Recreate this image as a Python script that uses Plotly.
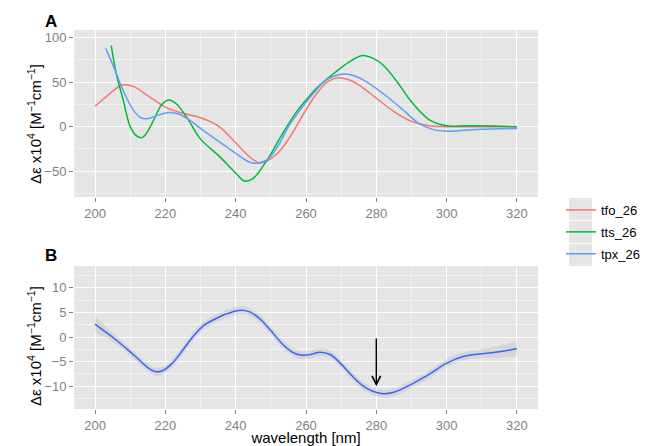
import plotly.graph_objects as go

# ---------------- data ----------------
tfo_x = [200, 203, 205, 208, 211, 215, 220, 225, 230, 235, 240, 244, 247, 250, 253, 256, 260, 263, 266, 269, 272, 275, 280, 285, 290, 295, 300, 305, 310, 315, 320]
tfo_y = [23, 33, 40, 47, 45, 35, 22, 15, 10, 1, -18, -34, -41, -36, -25, -8, 19, 37, 50, 55, 53, 47, 32, 17, 6, 1, 0, 0, 0, 0, 0]

tts_x = [204.6, 206, 208, 210, 212, 213.5, 215, 217, 219, 221, 223, 226, 230, 235, 240, 242.5, 245, 249, 253, 257, 260, 264, 268, 272, 276, 279, 282, 286, 290, 295, 300, 305, 310, 320]
tts_y = [91, 60, 30, 0, -11, -12, -5, 10, 25, 30, 26, 11, -14, -32, -52, -61, -58, -37, -10, 15, 30, 47, 60, 72, 80, 77, 69, 50, 28, 8, 1, 1, 1, 0]

tpx_x = [203, 205, 207, 209, 211, 213, 215, 218, 221, 224, 227, 230, 235, 240, 244, 246, 249, 252, 255, 258, 262, 266, 270, 273, 277, 282, 287, 292, 296, 300, 305, 310, 320]
tpx_y = [88, 70, 50, 32, 18, 10, 9, 13, 16, 14, 7, -2, -16, -30, -40, -41, -37, -22, 0, 17, 37, 53, 59, 58, 51, 37, 21, 4, -3, -5, -4, -3, -2]

smooth_x = [200, 203, 206, 209, 212, 215, 217, 219, 222, 225, 228, 231, 234, 237, 241, 244, 247, 250, 253, 256, 258, 261, 264, 267, 270, 273, 276, 279, 282, 285, 288, 291, 295, 300, 305, 310, 315, 320]
smooth_y = [2.6, 1.0, -0.6, -2.4, -4.3, -6.2, -7.0, -6.9, -5.3, -2.6, 0.2, 2.4, 3.6, 4.6, 5.4, 5.1, 3.6, 1.3, -1.2, -3.0, -3.6, -3.6, -3.1, -3.6, -5.5, -7.8, -9.8, -11.0, -11.5, -11.2, -10.3, -9.2, -7.6, -5.3, -3.9, -3.4, -3.0, -2.4]
smooth_se = [1.8, 1.2, 0.9, 0.8, 0.8, 0.8, 0.8, 0.8, 0.8, 0.8, 0.8, 0.8, 0.8, 0.8, 0.8, 0.8, 0.8, 0.8, 0.8, 0.8, 0.8, 0.8, 0.8, 0.8, 0.8, 0.8, 0.8, 0.8, 0.8, 0.8, 0.8, 0.8, 0.8, 0.8, 0.8, 0.9, 1.2, 1.6]

series_names = ["tfo_26", "tts_26", "tpx_26"]
series_colors = ["#F8766D", "#00BA38", "#619CFF"]

x_ticks = [200, 220, 240, 260, 280, 300, 320]
ya_ticks = [-50, 0, 50, 100]
yb_ticks = [-10, -5, 0, 5, 10]
arrow_x = 280
arrow_y0 = 0
arrow_y1 = -10

# ---------------- layout geometry ----------------
W, H = 645, 446
ML, MR, MT, MB = 74, 107, 30, 37
PW, PH = W - ML - MR, H - MT - MB

def px_x(p):
    return (p - ML) / PW

def px_y(p):
    return (H - MB - p) / PH

FONT = "Liberation Sans, Arial, sans-serif"
GRID_BG = "#E5E5E5"
TICK_GREY = "#7F7F7F"

fig = go.Figure()

for name, color, xs, ys in zip(series_names, series_colors,
                               [tfo_x, tts_x, tpx_x], [tfo_y, tts_y, tpx_y]):
    fig.add_trace(go.Scatter(x=xs, y=ys, mode="lines", name=name,
                             line=dict(color=color, width=1.5, shape="spline", smoothing=1.0),
                             legendgroup=name, xaxis="x", yaxis="y"))

upper = [y + s for y, s in zip(smooth_y, smooth_se)]
lower = [y - s for y, s in zip(smooth_y, smooth_se)]
fig.add_trace(go.Scatter(x=smooth_x, y=upper, mode="lines", line=dict(width=0, shape="spline"),
                         showlegend=False, hoverinfo="skip", xaxis="x2", yaxis="y2"))
fig.add_trace(go.Scatter(x=smooth_x, y=lower, mode="lines", line=dict(width=0, shape="spline"),
                         fill="tonexty", fillcolor="rgba(160,160,160,0.22)",
                         showlegend=False, hoverinfo="skip", xaxis="x2", yaxis="y2"))
fig.add_trace(go.Scatter(x=smooth_x, y=smooth_y, mode="lines",
                         line=dict(color="#3366FF", width=1.5, shape="spline", smoothing=1.0),
                         showlegend=False, xaxis="x2", yaxis="y2"))

axis_common = dict(showline=False, zeroline=False, ticks="outside", ticklen=4,
                   tickcolor=TICK_GREY, tickwidth=1,
                   tickfont=dict(family=FONT, size=13, color=TICK_GREY),
                   gridcolor="white", gridwidth=1.2,
                   showgrid=True, automargin=False)

ytitle = "Δε x10<sup>4</sup> [M<sup>−1</sup>cm<sup>−1</sup>]"

fig.update_layout(
    width=W, height=H,
    margin=dict(l=ML, r=MR, t=MT, b=MB, autoexpand=False),
    paper_bgcolor="white", plot_bgcolor=GRID_BG,
    font=dict(family=FONT, size=13, color="black"),
    xaxis=dict(domain=[0, 1], anchor="y", range=[194, 326], tickvals=x_ticks,
               minor=dict(dtick=10, tick0=190, showgrid=True, gridcolor="#F2F2F2", ticks=""),
               **axis_common),
    yaxis=dict(domain=[px_y(197), 1], anchor="x", range=[-79, 108.6], tickvals=ya_ticks,
               ticktext=["−50", "0", "50", "100"],
               minor=dict(dtick=25, tick0=-75, showgrid=True, gridcolor="#F2F2F2", ticks=""),
               **axis_common),
    xaxis2=dict(domain=[0, 1], anchor="y2", range=[194, 326], tickvals=x_ticks,
                minor=dict(dtick=10, tick0=190, showgrid=True, gridcolor="#F2F2F2", ticks=""),
                title=dict(text="wavelength [nm]", font=dict(family=FONT, size=15, color="black"), standoff=4),
                **axis_common),
    yaxis2=dict(domain=[0, px_y(266)], anchor="x2", range=[-14.6, 14.4], tickvals=yb_ticks,
                ticktext=["−10", "−5", "0", "5", "10"],
                minor=dict(dtick=5, tick0=-12.5, showgrid=True, gridcolor="#F2F2F2", ticks=""),
                **axis_common),
    legend=dict(x=px_x(561), y=px_y(195), xanchor="left", yanchor="top",
                font=dict(family=FONT, size=13, color="black"),
                bgcolor="rgba(0,0,0,0)", tracegroupgap=2, itemwidth=30),
    showlegend=True,
)

# y-axis titles (placed as in the reference)
for yc in [124, 346]:
    fig.add_annotation(text=ytitle, xref="paper", yref="paper", x=px_x(34), y=px_y(yc),
                       xanchor="center", yanchor="middle", textangle=-90, showarrow=False,
                       font=dict(family=FONT, size=15, color="black"))

# legend key backgrounds
for top in [198, 221, 244]:
    fig.add_shape(type="rect", xref="paper", yref="paper",
                  x0=px_x(569), x1=px_x(592), y0=px_y(top), y1=px_y(top + 22),
                  fillcolor=GRID_BG, line=dict(width=0), layer="above")

# panel letters
fig.add_annotation(text="<b>A</b>", xref="paper", yref="paper", x=px_x(43), y=px_y(10),
                   xanchor="left", yanchor="top", showarrow=False,
                   font=dict(family=FONT, size=17, color="black"))
fig.add_annotation(text="<b>B</b>", xref="paper", yref="paper", x=px_x(43), y=px_y(244),
                   xanchor="left", yanchor="top", showarrow=False,
                   font=dict(family=FONT, size=17, color="black"))

# arrow in panel B
fig.add_annotation(x=arrow_x, y=arrow_y1, ax=arrow_x, ay=arrow_y0,
                   xref="x2", yref="y2", axref="x2", ayref="y2",
                   showarrow=True, arrowhead=5, arrowsize=1.2, arrowwidth=1.4,
                   arrowcolor="black", text="")

fig.write_html("out.html", config={"displayModeBar": False},
               post_script="document.body.style.margin='0';")
